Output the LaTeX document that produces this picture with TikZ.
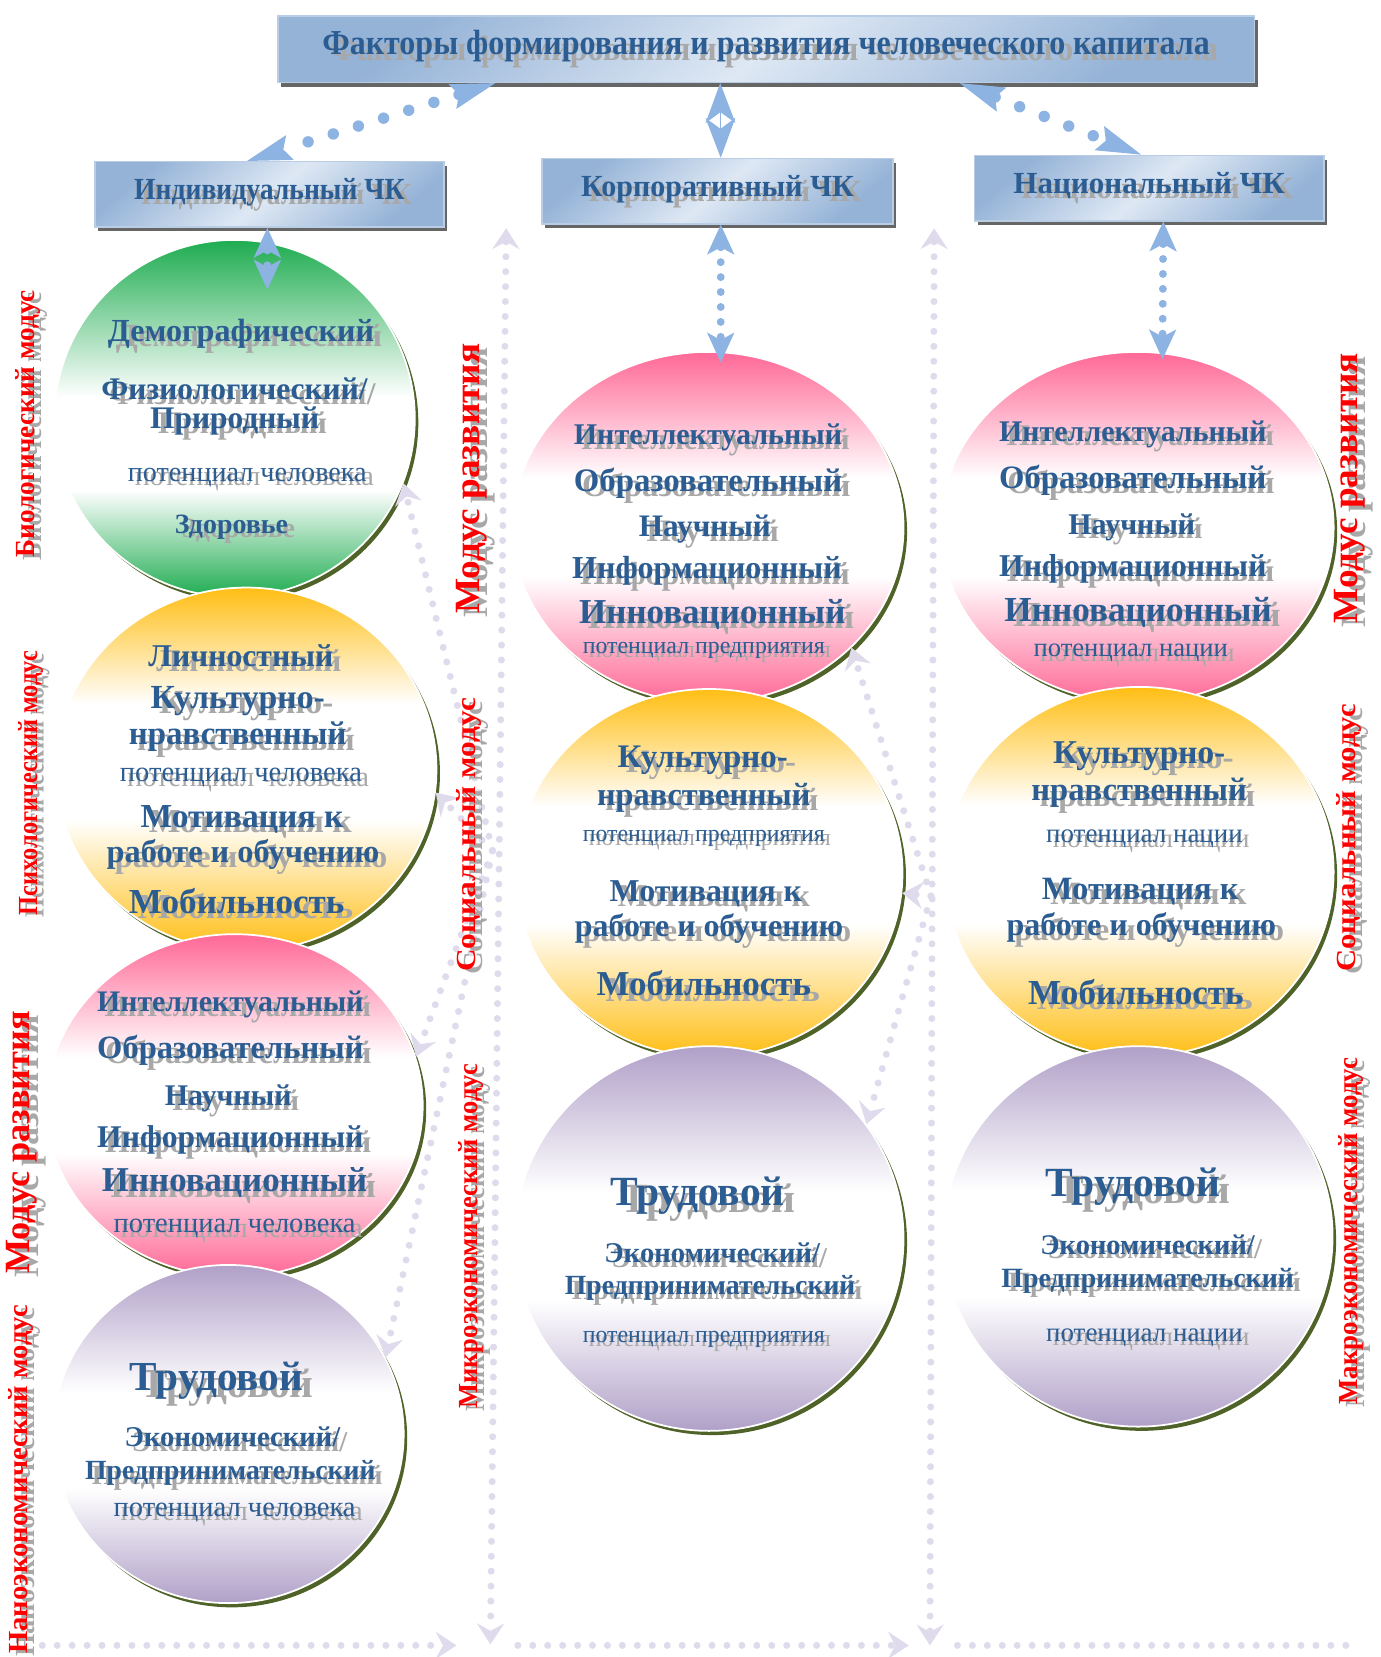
\documentclass[tikz,border=0pt]{standalone}
\usepackage{fontspec}
\setmainfont{Liberation Serif}
\usetikzlibrary{calc,arrows.meta,shapes.geometric,shadows}

\definecolor{txtblue}{RGB}{44,93,146}
\definecolor{shgray}{RGB}{168,168,168}
\definecolor{arrblue}{RGB}{141,179,226}
\definecolor{lav}{RGB}{224,219,236}
\definecolor{olivesh}{RGB}{79,98,40}
\definecolor{boxdark}{RGB}{149,179,215}
\definecolor{boxlight}{RGB}{222,232,244}
\definecolor{boxedge}{RGB}{185,205,229}
\definecolor{grn}{RGB}{30,172,80}
\definecolor{orng}{RGB}{255,190,20}
\definecolor{pnk}{RGB}{255,104,150}
\definecolor{prpl}{RGB}{176,160,200}

% colour at top and bottom, white band in the middle
\newcommand\ballshade[4]{\pgfdeclareverticalshading{#1}{100bp}{color(0bp)=(#2); color(25bp)=(#2);
  color(#3bp)=(white); color(#4bp)=(white); color(75bp)=(#2); color(100bp)=(#2)}}
\ballshade{gshade}{grn}{40}{53}
\ballshade{oshade}{orng}{43}{59}
\ballshade{pshade}{pnk}{43}{57}
\ballshade{vshade}{prpl}{42}{56}

\newlength\pxu
\setlength\pxu{0.021134cm}
% text with a grey shadow, down right
\newcommand\sh[1]{\rlap{\kern.25em\raisebox{-.16em}{\color{shgray}#1}}#1}
% the same for the turned labels
\newcommand\shr[1]{\rlap{\kern-.1em\raisebox{-.24em}{\color{shgray}#1}}#1}

\begin{document}
\begin{tikzpicture}[x=0.021134cm,y=-0.021134cm,
  bigtip/.tip={Stealth[length=0.9cm,width=0.52cm,inset=0.14cm,line width=0pt]},
  midtip/.tip={Stealth[length=0.8cm,width=0.6cm,inset=0.22cm,line width=0pt]},
  smtip/.tip={Stealth[length=0.6cm,width=0.55cm,inset=0.15cm,line width=0pt]},
  ltip/.tip={Stealth[length=0.42cm,width=0.55cm,inset=0.15cm,line width=0pt]},
  hbox/.style={rectangle,draw=boxedge,line width=0.8pt,left color=boxdark,right color=boxdark,
    middle color=boxlight,shading angle=40,inner sep=0pt,text=txtblue,font=\bfseries,
    drop shadow={shadow xshift=1.8pt,shadow yshift=-2.4pt,fill=gray!80!black,opacity=1}},
  ball/.style={ellipse,draw=white,line width=1pt,inner sep=0pt,shade,
    drop shadow={shadow xshift=2pt,shadow yshift=-2.4pt,fill=olivesh,opacity=1}},
  gball/.style={ball,shading=gshade},
  oball/.style={ball,shading=oshade},
  pball/.style={ball,shading=pshade},
  vball/.style={ball,shading=vshade},
  ctxt/.style={text=txtblue,font=\bfseries,inner sep=0pt,yshift=-1.8pt},
  cpot/.style={text=txtblue,inner sep=0pt,yshift=-1.8pt},
  modus/.style={text=red,font=\bfseries,rotate=90,inner sep=0pt},
  bdots/.style={draw=arrblue,line width=6.5pt,line cap=round,dash pattern=on 0pt off 15pt},
  sdots/.style={draw=arrblue,line width=4.5pt,line cap=round,dash pattern=on 0pt off 8.5pt},
  ldots/.style={draw=lav,line width=4pt,line cap=round,dash pattern=on 0pt off 8.5pt}]
  \useasboundingbox (0,0) rectangle (1306,1568);

  % header and the three kinds of capital
  \node[hbox,minimum width=19.528cm,minimum height=1.331cm] (title) at (725,46.5)
    {\resizebox{840\pxu}{23\pxu}{\sh{Факторы формирования и развития человеческого капитала}}};
  \node[hbox,minimum width=6.974cm,minimum height=1.31cm] (indiv) at (255,184)
    {\resizebox{256\pxu}{20\pxu}{\sh{Индивидуальный ЧК}}};
  \node[hbox,minimum width=7.016cm,minimum height=1.31cm] (korp) at (679,181)
    {\resizebox{258\pxu}{20\pxu}{\sh{Корпоративный ЧК}}};
  \node[hbox,minimum width=6.995cm,minimum height=1.31cm] (nat) at (1087.5,178)
    {\resizebox{257\pxu}{20\pxu}{\sh{Национальный ЧК}}};

  % individual column
  \node[gball,minimum width=7.207cm,minimum height=7.143cm] (demog) at (222,396) {};
  \node[oball,minimum width=7.608cm,minimum height=7.270cm] (lichn) at (233,728) {};
  \node[pball,minimum width=7.524cm,minimum height=6.847cm] (intI) at (222,1046) {};
  \node[vball,minimum width=7.016cm,minimum height=6.763cm] (trudI) at (216,1357) {};
  % corporate column
  \node[pball,minimum width=7.820cm,minimum height=7.016cm] (intK) at (670,499) {};
  \node[oball,minimum width=7.735cm,minimum height=7.355cm] (kultK) at (671,826) {};
  \node[vball,minimum width=7.777cm,minimum height=7.693cm] (trudK) at (671,1172) {};
  % national column
  \node[pball,minimum width=7.862cm,minimum height=7.016cm] (intN) at (1076,499) {};
  \node[oball,minimum width=7.777cm,minimum height=7.397cm] (kultN) at (1078,825) {};
  \node[vball,minimum width=7.777cm,minimum height=7.608cm] (trudN) at (1077,1170) {};

  % guide lines
  \coordinate (vlI) at (479,216);  \coordinate (vlIb) at (464,1556);
  \coordinate (vlK) at (884,216);  \coordinate (vlKb) at (880,1557);
  \draw[ldots,ltip-ltip] (vlI) -- (vlIb);
  \draw[ldots,ltip-ltip] (vlK) -- (vlKb);
  \coordinate (hb0) at (40,1557);  \coordinate (hb1) at (432,1557);
  \coordinate (hb2) at (490,1557); \coordinate (hb3) at (860,1557);
  \coordinate (hb4) at (906,1557); \coordinate (hb5) at (1282,1557);
  \draw[ldots,-ltip] (hb0) -- (hb1);
  \draw[ldots,-ltip] (hb2) -- (hb3);
  \draw[ldots] (hb4) -- (hb5);
  \coordinate (hubI) at (466,805);
  \coordinate (hubK) at (881,848);
  \foreach \c/\a in {demog/-21,lichn/-7,intI/15,trudI/26}
    \draw[ldots,-ltip] (hubI) -- (\c.\a);
  \foreach \c/\a in {intK/-40,kultK/-6,trudK/36}
    \draw[ldots,-ltip] (hubK) -- (\c.\a);

  % modus labels
  \foreach \lx/\ly/\ll/\lh/\lt [count=\k] in {
    30/401/253/18/Биологический модус,
    32/741/250/18/Психологический модус,
    25/1081/249/22/Модус развития,
    23/1400/330/18/Наноэкономический модус,
    450/453/256/22/Модус развития,
    447/790/259/18/Социальный модус,
    449/1170/326/18/Микроэкономический модус,
    1281/462/256/22/Модус развития,
    1280/793/253/18/Социальный модус,
    1282/1165/328/18/Макроэкономический модус}
    \node[modus] (modus-\k) at (\lx,\ly) {\resizebox{\ll\pxu}{\lh\pxu}{\shr{\lt}}};

  % texts of the circles
  \foreach \px/\py/\pw/\sty/\tx [count=\k] in {
    228/315/252/ctxt/Демографический,
    222/367/252/ctxt/{Физиологический/},
    222/398/160/ctxt/Природный,
    234/451/226/cpot/потенциал человека,
    219/498/107/ctxt/Здоровье}
    \node[\sty] (demog-\k) at (\px,\py) {\resizebox{\pw\pxu}{!}{\sh{\tx}}};
  \foreach \px/\py/\pw/\sty/\tx [count=\k] in {
    228/620/175/ctxt/Личностный,
    225/663/165/ctxt/Культурно-,
    225/697/206/ctxt/нравственный,
    228/735/229/cpot/потенциал человека,
    229/775/192/ctxt/Мотивация к,
    230/808/258/ctxt/работе и обучению,
    224/852/204/ctxt/Мобильность}
    \node[\sty] (lichn-\k) at (\px,\py) {\resizebox{\pw\pxu}{!}{\sh{\tx}}};
  \foreach \px/\py/\pw/\sty/\tx [count=\k] in {
    218/950/252/ctxt/Интеллектуальный,
    218/993/252/ctxt/Образовательный,
    216/1039/120/ctxt/Научный,
    218/1078/252/ctxt/Информационный,
    222/1119/251/ctxt/Инновационный,
    222/1162/229/cpot/потенциал человека}
    \node[\sty] (intI-\k) at (\px,\py) {\resizebox{\pw\pxu}{!}{\sh{\tx}}};
  \foreach \px/\py/\pw/\sty/\tx [count=\k] in {
    205/1307/164/ctxt/Трудовой,
    220/1359/204/ctxt/{Экономический/},
    218/1393/275/ctxt/Предпринимательский,
    222/1430/229/cpot/потенциал человека}
    \node[\sty] (trudI-\k) at (\px,\py) {\resizebox{\pw\pxu}{!}{\sh{\tx}}};
  \foreach \px/\py/\pw/\sty/\tx [count=\k] in {
    670/413/254/ctxt/Интеллектуальный,
    670/457/254/ctxt/Образовательный,
    667/500/125/ctxt/Научный,
    669/540/255/ctxt/Информационный,
    674/581/252/ctxt/Инновационный,
    666/614/229/cpot/потенциал предприятия}
    \node[\sty] (intK-\k) at (\px,\py) {\resizebox{\pw\pxu}{!}{\sh{\tx}}};
  \foreach \px/\py/\pw/\sty/\tx [count=\k] in {
    665/719/161/ctxt/Культурно-,
    666/754/202/ctxt/нравственный,
    666/792/229/cpot/потенциал предприятия,
    668/845/182/ctxt/Мотивация к,
    671/878/254/ctxt/работе и обучению,
    666/930/203/ctxt/Мобильность}
    \node[\sty] (kultK-\k) at (\px,\py) {\resizebox{\pw\pxu}{!}{\sh{\tx}}};
  \foreach \px/\py/\pw/\sty/\tx [count=\k] in {
    660/1132/165/ctxt/Трудовой,
    674/1185/204/ctxt/{Экономический/},
    672/1218/275/ctxt/Предпринимательский,
    666/1266/229/cpot/потенциал предприятия}
    \node[\sty] (trudK-\k) at (\px,\py) {\resizebox{\pw\pxu}{!}{\sh{\tx}}};
  \foreach \px/\py/\pw/\sty/\tx [count=\k] in {
    1072/410/253/ctxt/Интеллектуальный,
    1072/454/253/ctxt/Образовательный,
    1071/498/120/ctxt/Научный,
    1072/538/253/ctxt/Информационный,
    1077/579/253/ctxt/Инновационный,
    1070/617/184/cpot/потенциал нации}
    \node[\sty] (intN-\k) at (\px,\py) {\resizebox{\pw\pxu}{!}{\sh{\tx}}};
  \foreach \px/\py/\pw/\sty/\tx [count=\k] in {
    1078/715/163/ctxt/Культурно-,
    1078/750/204/ctxt/нравственный,
    1083/793/186/cpot/потенциал нации,
    1079/843/186/ctxt/Мотивация к,
    1080/877/255/ctxt/работе и обучению,
    1075/938/204/ctxt/Мобильность}
    \node[\sty] (kultN-\k) at (\px,\py) {\resizebox{\pw\pxu}{!}{\sh{\tx}}};
  \foreach \px/\py/\pw/\sty/\tx [count=\k] in {
    1072/1123/165/ctxt/Трудовой,
    1086/1177/203/ctxt/{Экономический/},
    1086/1211/277/ctxt/Предпринимательский,
    1083/1265/186/cpot/потенциал нации}
    \node[\sty] (trudN-\k) at (\px,\py) {\resizebox{\pw\pxu}{!}{\sh{\tx}}};

  % links from the header down to the boxes
  \draw[bdots,bigtip-bigtip] ($(title.south west)!0.223!(title.south east)$)
    -- ($(indiv.north west)!0.436!(indiv.north east)$);
  \draw[arrblue,line width=0.4pt,midtip-midtip] ($(title.south west)!0.453!(title.south east)$)
    -- ($(korp.north west)!0.509!(korp.north east)$);
  \draw[bdots,bigtip-bigtip] ($(title.south west)!0.698!(title.south east)$)
    -- ($(nat.north west)!0.477!(nat.north east)$);
  % links from the boxes to the circles
  \coordinate (demogIn) at (253,274);
  \coordinate (intKIn) at (682,343);
  \coordinate (intNIn) at (1100,340);
  \draw[sdots,smtip-smtip] ($(indiv.south west)!0.494!(indiv.south east)$) -- (demogIn);
  \draw[sdots,smtip-smtip] ($(korp.south west)!0.509!(korp.south east)$) -- (intKIn);
  \draw[sdots,smtip-smtip] ($(nat.south west)!0.540!(nat.south east)$) -- (intNIn);
\end{tikzpicture}
\end{document}
